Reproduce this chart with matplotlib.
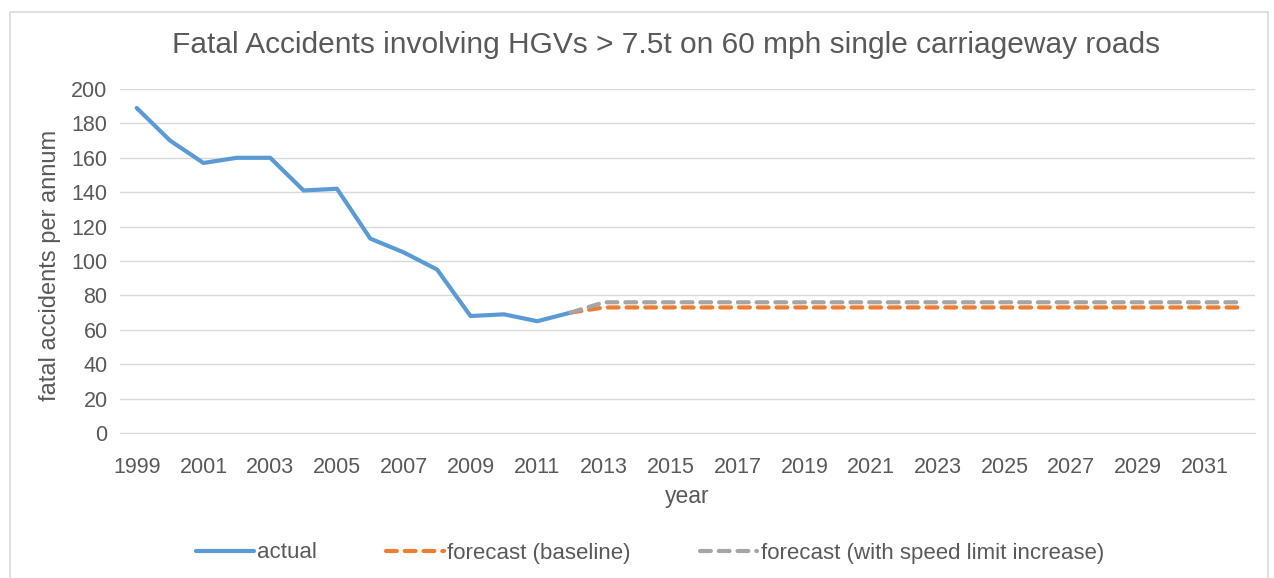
import matplotlib
matplotlib.use('Agg')
from matplotlib import pyplot as plt

plt.rcParams['font.family'] = ['Liberation Sans', 'DejaVu Sans']

years_actual = list(range(1999, 2013))
actual = [189, 170, 157, 160, 160, 141, 142, 113, 105, 95, 68, 69, 65, 70]

years_fc = list(range(2012, 2033))
baseline = [70] + [73] * 20
speed = [70] + [76] * 20

tick_years = list(range(1999, 2032, 2))

W, H = 1274, 578
txt = '#595959'
fig = plt.figure(figsize=(W / 100, H / 100), dpi=100)
ax = fig.add_axes([120 / W, 1 - 433 / H, 1135 / W, 344 / H])

ax.plot(years_actual, actual, color='#5B9BD5', lw=3, label='actual', solid_capstyle='round')
ax.plot(years_fc, baseline, color='#ED7D31', lw=3, ls=(0, (2.6, 1.9)),
        dash_capstyle='round', label='forecast (baseline)')
ax.plot(years_fc, speed, color='#A5A5A5', lw=3, ls=(0, (2.6, 1.9)),
        dash_capstyle='round', label='forecast (with speed limit increase)')

ax.set_xlim(1998.5, 2032.5)
ax.set_ylim(0, 200)
ax.set_yticks(range(0, 201, 20))
ax.set_xticks(tick_years)
ax.tick_params(length=0, labelsize=15.5, colors=txt)
ax.tick_params(axis='y', pad=9)
ax.tick_params(axis='x', pad=17)
ax.grid(axis='y', color='#D9D9D9', lw=1)
ax.set_axisbelow(True)
for s in ['top', 'right', 'left']:
    ax.spines[s].set_visible(False)
ax.spines['bottom'].set_color('#D9D9D9')

fig.text(666 / W, 1 - 45 / H, 'Fatal Accidents involving HGVs > 7.5t on 60 mph single carriageway roads',
         fontsize=21.5, color=txt, ha='center', va='center')
fig.text(687 / W, 1 - 497 / H, 'year', fontsize=16.5, color=txt, ha='center', va='center')
fig.text(50 / W, 1 - 265 / H, 'fatal accidents per annum', fontsize=17, color=txt,
         ha='center', va='center', rotation=90)

fig.legend(loc='center', bbox_to_anchor=(650 / W, 1 - 553 / H), ncol=3, frameon=False,
           fontsize=16, labelcolor=txt, columnspacing=3.1, handlelength=2.6, handletextpad=0.15)

fig.patches.append(plt.Rectangle((10 / W, -0.01), 1258 / W, 1 - 12 / H + 0.01,
                                 transform=fig.transFigure, fill=False,
                                 edgecolor='#D9D9D9', lw=1.2))

fig.savefig('out.png', dpi=100)
